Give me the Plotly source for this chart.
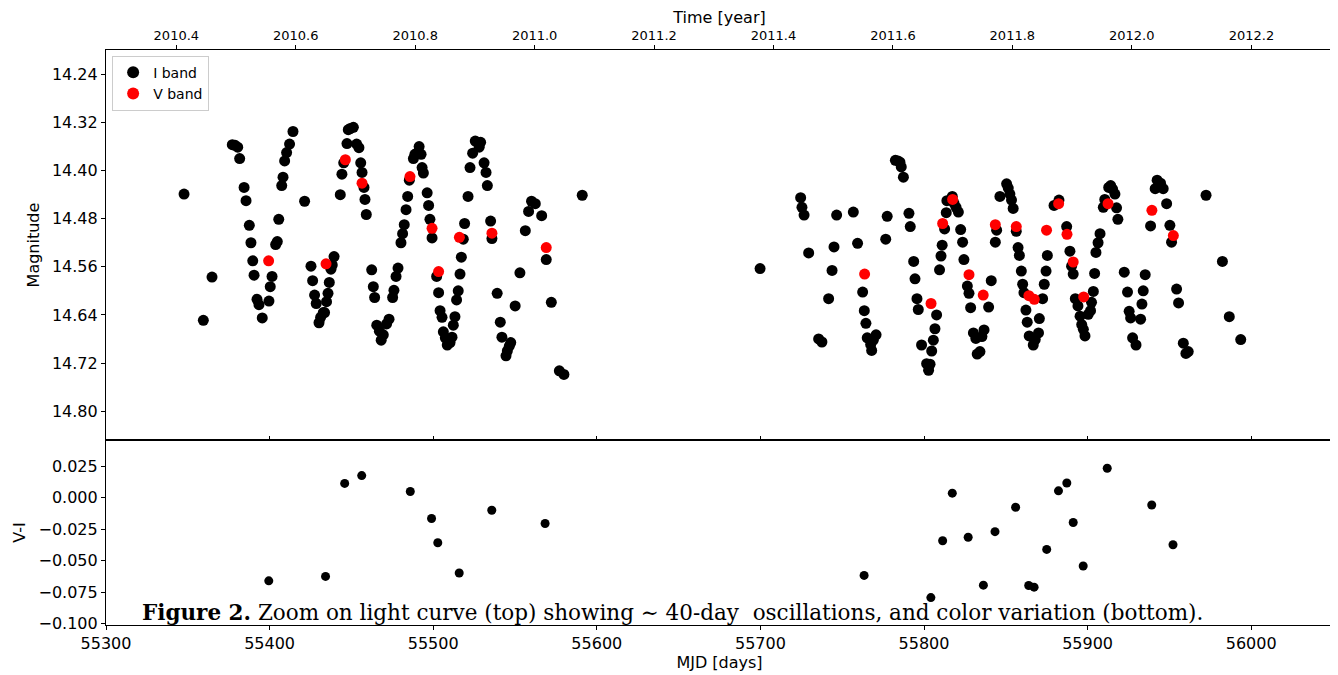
import plotly.graph_objects as go

# ---------------- data ----------------
i_mjd = [55347.7, 55359.5, 55364.8, 55377.2, 55378.9, 55380.5, 55381.7, 55384.4, 55385.6, 55387.6,
         55388.6, 55389.7, 55390.5, 55392.3, 55393.5, 55395.5, 55399.6, 55400.4, 55401.5, 55403.7,
         55404.7, 55405.6, 55407.4, 55408.2, 55409.2, 55410.4, 55412.2, 55414.3, 55421.4, 55425.3,
         55426.3, 55427.5, 55428.5, 55430.2, 55431.2, 55432.8, 55433.6, 55434.8, 55435.7, 55436.5,
         55437.5, 55438.3, 55439.4, 55443.2, 55444.2, 55445.3, 55447.3, 55448.1, 55449.3, 55451.2,
         55453.2, 55454.6, 55455.7, 55456.5, 55457.7, 55458.3, 55459.1, 55462.4, 55463.4, 55464.2,
         55465.5, 55467.1, 55468.2, 55469.5, 55471.5, 55473.0, 55475.2, 55476.0, 55477.3, 55478.5,
         55480.3, 55481.3, 55482.3, 55483.4, 55484.4, 55485.4, 55487.9, 55488.8, 55490.0, 55491.4,
         55492.6, 55493.2, 55494.0, 55496.3, 55497.2, 55498.0, 55499.3, 55502.1, 55503.3, 55504.2,
         55505.4, 55506.2, 55507.4, 55508.6, 55510.3, 55511.5, 55512.3, 55513.3, 55514.3, 55515.3,
         55516.4, 55517.2, 55518.4, 55519.2, 55521.3, 55522.5, 55524.1, 55525.7, 55527.4, 55528.1,
         55529.0, 55531.1, 55532.3, 55533.1, 55535.1, 55535.9, 55539.1, 55541.0, 55542.0, 55544.5,
         55545.3, 55546.5, 55547.4, 55550.1, 55553.0, 55556.3, 55558.3, 55560.1, 55562.4, 55566.3,
         55569.1, 55572.2, 55577.1, 55579.9, 55591.1,
         55699.8, 55724.6, 55725.4, 55726.7, 55729.5, 55735.6, 55737.6, 55741.7, 55743.8, 55745.0,
         55746.6, 55756.8, 55759.4, 55762.5, 55763.5, 55764.5, 55765.3, 55767.4, 55768.0, 55769.0,
         55770.7, 55776.6, 55777.5, 55782.5, 55784.1, 55785.3, 55786.1, 55787.4, 55790.8, 55791.6,
         55793.7, 55794.5, 55795.7, 55796.5, 55798.5, 55801.6, 55802.8, 55803.7, 55804.7, 55805.7,
         55806.7, 55807.7, 55809.5, 55810.4, 55811.1, 55812.6, 55813.6, 55814.0, 55817.3, 55818.3,
         55819.6, 55821.0, 55822.4, 55823.6, 55824.4, 55826.5, 55827.5, 55828.5, 55830.2, 55831.7,
         55832.5, 55834.2, 55835.4, 55836.7, 55839.5, 55841.1, 55843.6, 55844.4, 55846.4, 55850.5,
         55851.5, 55852.5, 55853.5, 55854.5, 55856.4, 55857.5, 55858.3, 55859.5, 55860.3, 55861.1,
         55862.3, 55863.1, 55864.3, 55866.8, 55868.0, 55870.0, 55870.5, 55872.5, 55873.5, 55874.6,
         55875.4, 55879.5, 55882.5, 55887.2, 55889.2, 55890.2, 55891.2, 55892.5, 55894.1, 55895.4,
         55896.4, 55897.4, 55898.4, 55900.4, 55901.8, 55902.4, 55903.5, 55904.3, 55905.1, 55906.4,
         55907.6, 55909.6, 55910.5, 55912.9, 55914.1, 55915.3, 55916.7, 55917.7, 55918.5, 55922.4,
         55924.4, 55925.4, 55926.3, 55927.5, 55929.6, 55932.4, 55933.2, 55934.0, 55935.2, 55938.5,
         55941.3, 55942.5, 55944.6, 55946.2, 55948.3, 55950.3, 55951.3, 55954.4, 55955.6, 55958.5,
         55960.1, 55961.5, 55972.4, 55982.4, 55986.6, 55993.6]

i_mag = [14.439, 14.649, 14.577, 14.357, 14.358, 14.361, 14.380, 14.428, 14.450, 14.491,
         14.520, 14.550, 14.574, 14.614, 14.623, 14.645, 14.617, 14.593, 14.576, 14.523,
         14.518, 14.481, 14.425, 14.411, 14.384, 14.370, 14.356, 14.335, 14.451, 14.559,
         14.583, 14.607, 14.621, 14.653, 14.644, 14.636, 14.636, 14.618, 14.604, 14.586,
         14.564, 14.557, 14.543, 14.440, 14.406, 14.387, 14.355, 14.332, 14.330, 14.328,
         14.356, 14.362, 14.387, 14.403, 14.428, 14.448, 14.473, 14.565, 14.593, 14.611,
         14.657, 14.667, 14.682, 14.673, 14.655, 14.647, 14.611, 14.599, 14.576, 14.562,
         14.520, 14.505, 14.490, 14.465, 14.443, 14.416, 14.380, 14.373, 14.371, 14.360,
         14.373, 14.395, 14.404, 14.437, 14.458, 14.481, 14.512, 14.576, 14.603, 14.633,
         14.644, 14.668, 14.678, 14.690, 14.686, 14.677, 14.657, 14.643, 14.615, 14.600,
         14.572, 14.544, 14.514, 14.488, 14.443, 14.395, 14.371, 14.351, 14.353, 14.361,
         14.353, 14.387, 14.403, 14.425, 14.484, 14.513, 14.604, 14.652, 14.677, 14.708,
         14.700, 14.692, 14.686, 14.625, 14.570, 14.500, 14.468, 14.451, 14.455, 14.475,
         14.548, 14.619, 14.733, 14.739, 14.441,
         14.563, 14.445, 14.461, 14.474, 14.537, 14.680, 14.685, 14.613, 14.566, 14.527,
         14.474, 14.469, 14.521, 14.602, 14.633, 14.654, 14.678, 14.689, 14.699, 14.682,
         14.673, 14.514, 14.476, 14.383, 14.384, 14.386, 14.394, 14.411, 14.471, 14.493,
         14.551, 14.580, 14.613, 14.631, 14.690, 14.721, 14.732, 14.722, 14.700, 14.682,
         14.663, 14.640, 14.565, 14.542, 14.524, 14.497, 14.470, 14.450, 14.443, 14.454,
         14.461, 14.469, 14.498, 14.519, 14.548, 14.592, 14.604, 14.628, 14.670, 14.679,
         14.705, 14.701, 14.676, 14.665, 14.627, 14.583, 14.519, 14.499, 14.443, 14.422,
         14.429, 14.439, 14.449, 14.463, 14.501, 14.528, 14.541, 14.567, 14.589, 14.603,
         14.632, 14.652, 14.675, 14.690, 14.681, 14.670, 14.646, 14.613, 14.589, 14.567,
         14.541, 14.458, 14.449, 14.493, 14.534, 14.559, 14.572, 14.613, 14.625, 14.642,
         14.656, 14.664, 14.675, 14.639, 14.633, 14.619, 14.601, 14.571, 14.536, 14.520,
         14.505, 14.461, 14.448, 14.428, 14.425, 14.431, 14.439, 14.462, 14.481, 14.569,
         14.602, 14.634, 14.645, 14.678, 14.690, 14.647, 14.622, 14.600, 14.573, 14.492,
         14.430, 14.416, 14.421, 14.430, 14.455, 14.491, 14.519, 14.597, 14.620, 14.687,
         14.704, 14.701, 14.441, 14.551, 14.643, 14.681]

v_mjd = [55399.4, 55434.5, 55446.3, 55456.5, 55485.8, 55499.3, 55503.3, 55516.0, 55535.9, 55569.1,
         55763.7, 55804.3, 55811.4, 55817.5, 55827.5, 55836.2, 55843.6, 55856.4, 55864.1, 55867.4,
         55874.9, 55882.3, 55887.4, 55891.2, 55897.6, 55912.5, 55939.3, 55952.4]
v_mag = [14.550, 14.555, 14.382, 14.421, 14.410, 14.496, 14.568, 14.511, 14.504, 14.528,
         14.572, 14.621, 14.488, 14.448, 14.573, 14.607, 14.490, 14.493, 14.608, 14.614,
         14.499, 14.455, 14.506, 14.552, 14.610, 14.455, 14.466, 14.508]

vi_mjd = [55399.5, 55434.2, 55445.9, 55456.3, 55486.0, 55499.0, 55502.8, 55515.9, 55535.8, 55568.4,
          55763.4, 55804.2, 55811.4, 55817.3, 55827.0, 55836.3, 55843.4, 55856.0, 55864.0, 55867.3,
          55875.0, 55882.2, 55887.3, 55891.2, 55897.3, 55912.0, 55939.2, 55952.2]
vi_val = [-0.066, -0.0625, 0.0112, 0.0174, 0.0048, -0.0166, -0.0358, -0.0598, -0.0101, -0.0206,
          -0.0617, -0.0793, -0.0342, 0.0035, -0.0315, -0.0694, -0.027, -0.0077, -0.0697, -0.071,
          -0.0411, 0.0053, 0.0115, -0.0198, -0.0542, 0.0232, -0.0059, -0.0374]

year_ticks = [2010.4, 2010.6, 2010.8, 2011.0, 2011.2, 2011.4, 2011.6, 2011.8, 2012.0, 2012.2]
mag_ticks = [14.24, 14.32, 14.40, 14.48, 14.56, 14.64, 14.72, 14.80]
vi_ticks = [0.025, 0.0, -0.025, -0.05, -0.075, -0.1]
vi_ticklabels = ["0.025", "0.000", "\u22120.025", "\u22120.050", "\u22120.075", "\u22120.100"]
mjd_ticks = [55300, 55400, 55500, 55600, 55700, 55800, 55900, 56000]

caption = ("<b>Figure 2.</b> Zoom on light curve (top) showing \u223c 40-day&nbsp; oscillations, "
           "and color variation (bottom).")

# ---------------- helpers ----------------
MJD_2010 = 55197.0


def year_to_mjd(y):
    yr = int(y)
    start = MJD_2010 + sum(366 if (k % 4 == 0) else 365 for k in range(2010, yr))
    length = 366 if yr % 4 == 0 else 365
    return start + (y - yr) * length


X_RANGE = [55300, 56050]
FONT = "DejaVu Sans"

fig = go.Figure()

fig.add_trace(go.Scatter(x=i_mjd, y=i_mag, mode="markers", name="I band",
                         marker=dict(color="black", size=11),
                         xaxis="x2", yaxis="y2"))
fig.add_trace(go.Scatter(x=v_mjd, y=v_mag, mode="markers", name="V band",
                         marker=dict(color="#ff0000", size=11),
                         xaxis="x2", yaxis="y2"))
fig.add_trace(go.Scatter(x=vi_mjd, y=vi_val, mode="markers", showlegend=False,
                         marker=dict(color="black", size=9),
                         xaxis="x", yaxis="y"))
# invisible trace to carry the top (year) axis
fig.add_trace(go.Scatter(x=[X_RANGE[0], X_RANGE[1]], y=[14.5, 14.5], mode="markers",
                         marker=dict(opacity=0), showlegend=False, hoverinfo="skip",
                         xaxis="x3", yaxis="y2"))

split = 0.3217
axis_common = dict(showline=True, linecolor="black", linewidth=1.2, mirror=True,
                   showgrid=False, zeroline=False, ticks="outside", ticklen=4,
                   tickcolor="black", automargin=False,
                   tickfont=dict(family=FONT, size=16, color="black"))

# the page body adds an 8 px offset, so the figure is 8 px smaller and margins shifted
fig.update_layout(
    width=1330, height=667,
    margin=dict(l=98, r=5, t=42, b=50),
    paper_bgcolor="white", plot_bgcolor="white",
    font=dict(family=FONT, color="black"),
    xaxis=dict(axis_common, range=X_RANGE, anchor="y", domain=[0, 1],
               tickvals=mjd_ticks, ticktext=[str(t) for t in mjd_ticks],
               title=dict(text="MJD [days]", font=dict(family=FONT, size=16), standoff=4)),
    yaxis=dict(axis_common, range=[-0.101, 0.0456], domain=[0, split], anchor="x",
               tickvals=vi_ticks, ticktext=vi_ticklabels,
               title=dict(text="V-I", font=dict(family=FONT, size=16), standoff=8)),
    xaxis2=dict(axis_common, range=X_RANGE, anchor="y2", matches="x",
                showticklabels=False, ticks="inside", mirror=False,
                tickvals=mjd_ticks),
    yaxis2=dict(axis_common, range=[14.848, 14.1995], domain=[split, 1], anchor="x2",
                tickvals=mag_ticks, ticktext=[f"{t:.2f}" for t in mag_ticks],
                title=dict(text="Magnitude", font=dict(family=FONT, size=16), standoff=8)),
    xaxis3=dict(axis_common, range=X_RANGE, anchor="y2", overlaying="x2", side="top",
                mirror=False,
                tickvals=[year_to_mjd(y) for y in year_ticks],
                ticktext=[f"{y:.1f}" for y in year_ticks],
                tickfont=dict(family=FONT, size=13, color="black"),
                title=dict(text="Time [year]", font=dict(family=FONT, size=16), standoff=2)),
    legend=dict(x=0.005, y=0.99, xanchor="left", yanchor="top",
                bgcolor="rgba(255,255,255,0.8)", bordercolor="#cccccc", borderwidth=1,
                font=dict(family=FONT, size=14, color="black"),
                itemsizing="constant", tracegroupgap=0),
    showlegend=True,
)

fig.add_annotation(text=caption, xref="paper", yref="paper", x=0.0277, y=0.0226,
                   xanchor="left", yanchor="middle", showarrow=False,
                   font=dict(family="DejaVu Serif", size=21.5, color="black"))

fig.write_html("out.html")
